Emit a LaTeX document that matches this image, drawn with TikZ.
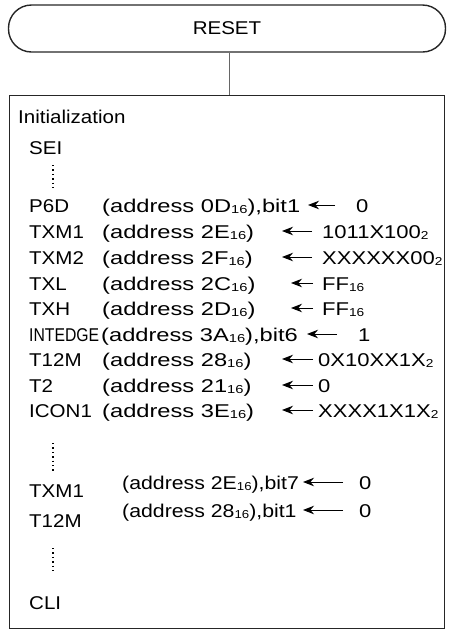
\documentclass[tikz,border=0pt]{standalone}
\usepackage{fontspec}
\usepackage{graphicx}
\setmainfont[FakeStretch=1.11]{Liberation Sans}
\newfontfamily\adfont[FakeStretch=1.28]{Liberation Sans}
\newfontfamily\vafont[FakeStretch=1.19]{Liberation Sans}
\newfontfamily\lofont[FakeStretch=1.15]{Liberation Sans}
\usetikzlibrary{arrows.meta}
\newcommand{\sbs}[1]{\raisebox{-1pt}{\fontsize{11.5}{12}\selectfont #1}}
\begin{document}
\begin{tikzpicture}[x=1pt,y=-1pt,
  txt/.style={anchor=base west,inner sep=0pt,font=\fontsize{18.5}{22}\selectfont},
  ad/.style={txt,font=\fontsize{18.5}{22}\adfont},
  va/.style={txt,font=\fontsize{18.5}{22}\vafont},
  lo/.style={txt,font=\fontsize{18.5}{22}\lofont},
  arr/.style={-{Stealth[length=11pt,width=8.5pt]},line width=1pt},
  dots/.style={line width=1.4pt,dash pattern=on 1.4pt off 3pt},
  frame/.style={draw=black!85,line width=1.4pt}]
\useasboundingbox (0,0) rectangle (448,633);
\node[frame,rounded corners=23pt,minimum width=437pt,minimum height=47pt,inner sep=0pt,font=\fontsize{18.5}{22}\selectfont] (reset) at (227,28.5) {RESET};
\node[frame,anchor=north west,minimum width=435pt,minimum height=533pt,inner sep=0pt] (box) at (9,95) {};
\draw[black!60,line width=0.9pt] ([xshift=2pt]reset.south) -- ([xshift=2pt]reset.south |- box.north);
% texts
\node[txt] (init) at (18,123) {Initialization};
\node[txt] (sei) at (29,154) {SEI};
\coordinate (d1a) at (53,165); \coordinate (d1b) at (53,189);
\draw[dots] (d1a) -- (d1b);
% rows
\node[txt] (n1) at (29,212) {P6D};
\node[ad] (ad1) at (102,212) {(address 0D\sbs{16}),bit1};
\node[va] (v1) at (356,212) {0};
\node[txt] (n2) at (29,238) {TXM1};
\node[ad] (ad2) at (102,238) {(address 2E\sbs{16})};
\node[va] (v2) at (322,238) {1011X100\sbs{2}};
\node[txt] (n3) at (29,264) {TXM2};
\node[ad] (ad3) at (102,264) {(address 2F\sbs{16})};
\node[va] (v3) at (322,264) {XXXXXX00\sbs{2}};
\node[txt] (n4) at (29,290) {TXL};
\node[ad] (ad4) at (102,290) {(address 2C\sbs{16})};
\node[va] (v4) at (322,290) {FF\sbs{16}};
\node[txt] (n5) at (29,315) {TXH};
\node[ad] (ad5) at (102,315) {(address 2D\sbs{16})};
\node[va] (v5) at (322,315) {FF\sbs{16}};
\node[txt] (n6) at (29,341) {\resizebox{70pt}{\height}{INTEDGE}};
\node[ad] (ad6) at (101,341) {(address 3A\sbs{16}),bit6};
\node[va] (v6) at (358,341) {1};
\node[txt] (n7) at (29,366) {T12M};
\node[ad] (ad7) at (102,366) {(address 28\sbs{16})};
\node[va] (v7) at (318,366) {0X10XX1X\sbs{2}};
\node[txt] (n8) at (29,392) {T2};
\node[ad] (ad8) at (102,392) {(address 21\sbs{16})};
\node[va] (v8) at (318,392) {0};
\node[txt] (n9) at (29,417) {ICON1};
\node[ad] (ad9) at (102,417) {(address 3E\sbs{16})};
\node[va] (v9) at (318,417) {XXXX1X1X\sbs{2}};
\coordinate (d2a) at (53,443); \coordinate (d2b) at (53,472);
\draw[dots] (d2a) -- (d2b);
\node[txt] (n10) at (29,497) {TXM1};
\node[lo] (ad10) at (122,489) {(address 2E\sbs{16}),bit7};
\node[va] (v10) at (359,489) {0};
\node[txt] (n11) at (29,527) {T12M};
\node[lo] (ad11) at (122,517) {(address 28\sbs{16}),bit1};
\node[va] (v11) at (359,517) {0};
\coordinate (d3a) at (53,548); \coordinate (d3b) at (53,574);
\draw[dots] (d3a) -- (d3b);
\node[txt] (cli) at (29,609) {CLI};
% arrows
\foreach \i/\s/\e/\y in {1/335/308/205, 2/312/282/231, 3/312/282/257, 4/313/291/283, 5/313/291/308, 6/337/307/334, 7/313/282/359, 8/313/282/385, 9/313/282/410, 10/343/303/482, 11/343/303/510}{
  \coordinate (as\i) at (\s,\y); \coordinate (ae\i) at (\e,\y);
  \draw[arr] (as\i) -- (ae\i);
}
\end{tikzpicture}
\end{document}
